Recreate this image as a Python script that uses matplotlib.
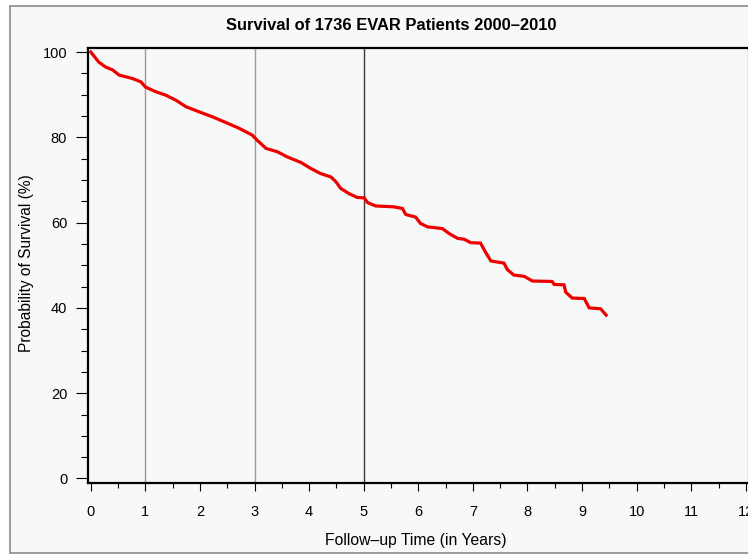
import matplotlib.pyplot as plt
from matplotlib.patches import Rectangle
from matplotlib.ticker import MultipleLocator

# ============================================================
# Data
# ============================================================
years = [0.00, 0.15, 0.27, 0.40, 0.52, 0.76, 0.92, 1.00, 1.19, 1.37,
         1.56, 1.74, 1.98, 2.23, 2.47, 2.72, 2.96, 3.05, 3.21, 3.42,
         3.60, 3.85, 4.03, 4.21, 4.40, 4.49, 4.58, 4.73, 4.88, 5.01,
         5.07, 5.22, 5.55, 5.71, 5.77, 5.95, 6.04, 6.17, 6.44, 6.57,
         6.72, 6.84, 6.96, 7.14, 7.23, 7.33, 7.57, 7.63, 7.75, 7.94,
         8.09, 8.45, 8.49, 8.67, 8.70, 8.82, 9.04, 9.13, 9.34, 9.44]
survival = [100.0, 97.6, 96.5, 95.8, 94.6, 93.8, 93.0, 91.8, 90.7, 89.9,
            88.7, 87.2, 86.0, 84.8, 83.5, 82.1, 80.5, 79.3, 77.4, 76.6,
            75.4, 74.1, 72.7, 71.5, 70.7, 69.6, 68.0, 66.8, 65.9, 65.8,
            64.7, 63.9, 63.7, 63.3, 61.9, 61.3, 59.8, 59.0, 58.6, 57.4,
            56.3, 56.1, 55.3, 55.2, 53.1, 51.0, 50.5, 49.0, 47.7, 47.4,
            46.3, 46.2, 45.5, 45.4, 43.7, 42.3, 42.2, 40.0, 39.8, 38.3]

ref_years = [1, 3, 5]
ref_colors = ["#9a9a9a", "#9a9a9a", "#3a3a3a"]

x_ticks = list(range(0, 13))
y_ticks = [0, 20, 40, 60, 80, 100]

# ============================================================
# Figure
# ============================================================
plt.rcParams["font.family"] = ["Liberation Sans", "DejaVu Sans"]

fig = plt.figure(figsize=(7.48, 5.56), dpi=100, facecolor="white")

# outer panel border
fig.patches.append(Rectangle((10 / 748, 3 / 556), 1.0, 547 / 556,
                             transform=fig.transFigure, facecolor="#f6f9f7",
                             edgecolor="#8a8a8a", linewidth=1.2, zorder=-10))

ax = fig.add_axes([88 / 748, 73 / 556, 659.5 / 748, 435 / 556])
ax.set_facecolor("#f6f9f7")
ax.set_zorder(1)

for xv, c in zip(ref_years, ref_colors):
    ax.axvline(xv, color=c, linewidth=1.0, zorder=1)

ax.plot(years, survival, color="#ee0000", linewidth=2.3, zorder=3,
        solid_joinstyle="miter")

ax.set_xlim(-0.05, 12.03)
ax.set_ylim(-1.06, 100.94)

ax.set_xticks(x_ticks)
ax.set_yticks(y_ticks)
ax.xaxis.set_minor_locator(MultipleLocator(0.5))
ax.yaxis.set_minor_locator(MultipleLocator(5))

ax.tick_params(axis="both", which="major", direction="out", length=6,
               width=0.8, labelsize=10.5, colors="black")
ax.tick_params(axis="both", which="minor", direction="out", length=3.5,
               width=0.8)
ax.tick_params(axis="x", which="major", pad=10)
ax.tick_params(axis="y", which="major", pad=6, length=9)
ax.tick_params(axis="y", which="minor", length=5)

for side in ["left", "bottom", "top"]:
    ax.spines[side].set_linewidth(1.6)
    ax.spines[side].set_color("black")
ax.spines["right"].set_linewidth(1.0)
ax.spines["right"].set_color("#aaaaaa")

# ============================================================
# Text
# ============================================================
fig.text(391 / 748, 1 - 25 / 556, "Survival of 1736 EVAR Patients 2000–2010",
         ha="center", va="center", fontsize=11.9, fontweight="bold")
fig.text(416 / 748, 1 - 541 / 556, "Follow–up Time (in Years)",
         ha="center", va="center", fontsize=11.3)
fig.text(27 / 748, 1 - 263 / 556, "Probability of Survival (%)",
         ha="center", va="center", fontsize=11.2, rotation=90)

fig.savefig("out.png", dpi=100, facecolor="white")
